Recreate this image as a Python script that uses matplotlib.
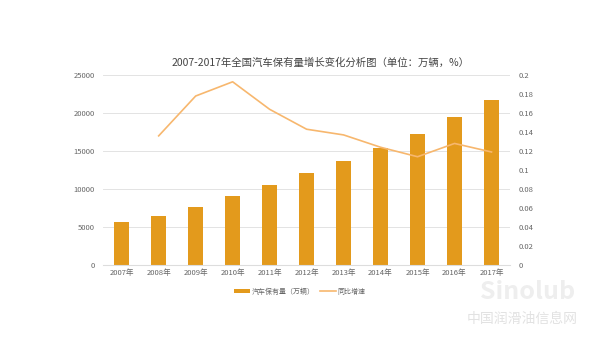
import numpy as np
import matplotlib.pyplot as plt

plt.rcParams['font.family'] = ['Noto Sans CJK SC', 'DejaVu Sans']

years = ['2007年', '2008年', '2009年', '2010年', '2011年', '2012年',
         '2013年', '2014年', '2015年', '2016年', '2017年']
cars = [5697, 6467, 7619, 9086, 10578, 12089, 13741, 15447, 17228, 19440, 21743]
growth = [np.nan, 0.136, 0.178, 0.193, 0.164, 0.143, 0.137, 0.124, 0.114, 0.128, 0.119]

x = np.arange(len(years))
gray = '#666666'

fig = plt.figure(figsize=(6, 3.37), dpi=100)
ax = fig.add_axes([0.172, 0.214, 0.678, 0.563])
ax2 = ax.twinx()

ax.bar(x, cars, width=0.4, color='#E39A1C', label='汽车保有量（万辆）', zorder=2)
ax2.plot(x, growth, color='#F7B76E', lw=1.2, label='同比增速')

ax.set_xlim(-0.5, len(years) - 0.5)
ax.set_ylim(0, 25000)
ax.set_yticks(np.arange(0, 25001, 5000))
ax2.set_ylim(0, 0.2)
ax2.set_yticks(np.arange(0, 0.201, 0.02))
ax2.set_yticklabels(['0', '0.02', '0.04', '0.06', '0.08', '0.1',
                     '0.12', '0.14', '0.16', '0.18', '0.2'])
ax.set_xticks(x)
ax.set_xticklabels(years)

ax.grid(axis='y', color='#E3E3E3', lw=0.7, zorder=0)
for a in (ax, ax2):
    for s in a.spines.values():
        s.set_visible(False)
    a.tick_params(length=0, labelsize=5.5, colors=gray, pad=6)
ax.spines['bottom'].set_visible(True)
ax.spines['bottom'].set_color('#DDDDDD')
ax.tick_params(axis='x', pad=3)

fig.text(0.535, 0.815, '2007-2017年全国汽车保有量增长变化分析图（单位：万辆，%）',
         ha='center', va='center', fontsize=7.5, color='#444444')

h1, l1 = ax.get_legend_handles_labels()
h2, l2 = ax2.get_legend_handles_labels()
fig.legend(h1 + h2, l1 + l2, loc='center', bbox_to_anchor=(0.5, 0.135), ncol=2,
           frameon=False, fontsize=5, labelcolor=gray, handlelength=2.2,
           handleheight=0.5, columnspacing=0.8, handletextpad=0.3)

# watermark
fig.text(0.88, 0.135, 'Sinolub', ha='center', va='center', fontsize=18,
         style='italic', weight='bold', color='#EEEEEE')
fig.text(0.87, 0.055, '中国润滑油信息网', ha='center', va='center', fontsize=10,
         color='#E2E2E2')

fig.savefig('out.png', dpi=100)
